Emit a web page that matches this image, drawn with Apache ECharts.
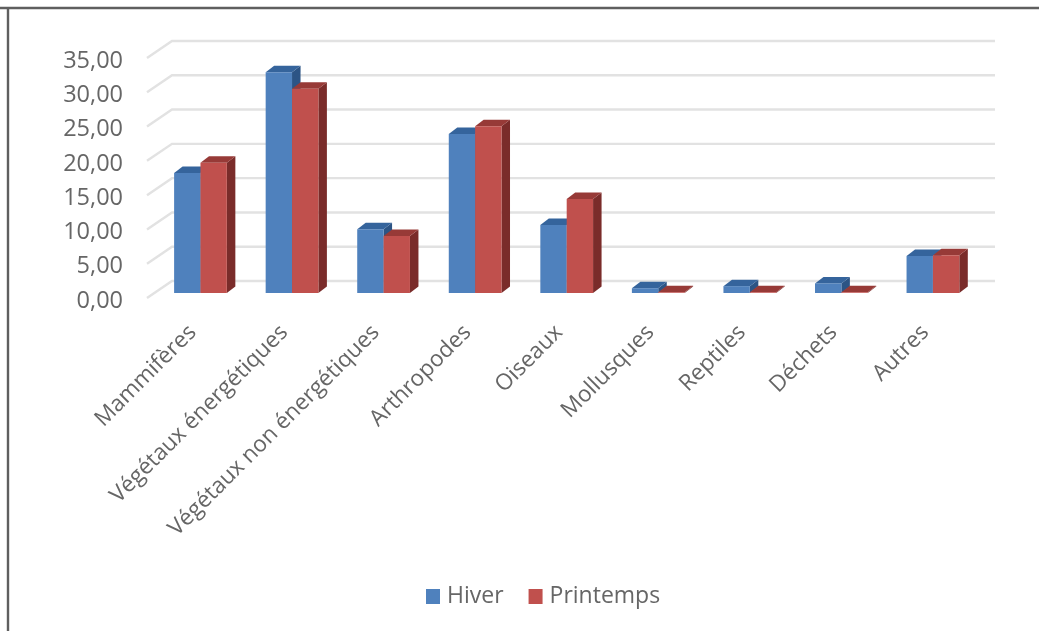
<!DOCTYPE html>
<html><head><meta charset="utf-8">
<style>html,body{margin:0;padding:0;background:#fff}#c{width:1039px;height:631px;filter:blur(0.7px)}</style>
<script src="https://cdn.jsdelivr.net/npm/echarts@6/dist/echarts.min.js"></script>
</head><body><div id="c"></div>
<script>
const categories = ["Mammifères","Végétaux énergétiques","Végétaux non énergétiques","Arthropodes","Oiseaux","Mollusques","Reptiles","Déchets","Autres"];
const hiver = [17.5,32.2,9.3,23.2,9.9,0.7,1.0,1.4,5.4];
const printemps = [19.0,29.8,8.3,24.3,13.7,0.1,0.1,0.1,5.5];
const ticks = [0,5,10,15,20,25,30,35];
const FONT = '"Open Sans", sans-serif';
const TEXT = '#666666';
const chart = echarts.init(document.getElementById('c'));

function gridItem(params, api){
  const v = api.value(0);
  const p = api.coord([0, v]);
  const cs = params.coordSys;
  const style = {fill:'none', stroke:'#e2e2e2', lineWidth:2.4};
  return {type:'polyline', silent:true, shape:{points:[
    [cs.x, p[1]-3],[cs.x+25, p[1]-20],[cs.x+cs.width+24, p[1]-20]
  ]}, style};
}
function barItem(side, front, top, right){
  return function(params, api){
    const i = api.value(0), v = api.value(1);
    const p = api.coord([i, v]), b = api.coord([i, 0]);
    const band = api.size([1,0])[0];
    const w = band*0.288;
    const ox = 7.7, oy = -8, dx = 8.5, dy = -6.5;
    const x0 = p[0]+ox+(side===0?-w:0), x1 = x0+w;
    const yt = p[1]+oy, yb = b[1]+oy;
    return {type:'group', children:[
      {type:'polygon', shape:{points:[[x1,yb],[x1+dx,yb+dy],[x1+dx,yt+dy],[x1,yt]]}, style:{fill:right}},
      {type:'polygon', shape:{points:[[x0,yt],[x0+dx,yt+dy],[x1+dx,yt+dy],[x1,yt]]}, style:{fill:top}},
      {type:'rect', shape:{x:x0,y:yt,width:w,height:yb-yt}, style:{fill:front}}
    ]};
  };
}
chart.setOption({
  animation:false,
  backgroundColor:'#fff',
  graphic:[
    {type:'line', shape:{x1:0,y1:8,x2:1039,y2:8}, style:{stroke:'#5f5f5f',lineWidth:2.4}},
    {type:'line', shape:{x1:8,y1:8,x2:8,y2:631}, style:{stroke:'#5f5f5f',lineWidth:2.4}}
  ],
  grid:{left:147, top:61, width:824, height:240, containLabel:false},
  xAxis:{type:'category', data:categories, axisLine:{show:false}, axisTick:{show:false},
    axisLabel:{rotate:45, interval:0, margin:28, fontFamily:FONT, fontSize:22.5, color:TEXT}},
  yAxis:{type:'value', min:0, max:35, interval:5, axisLine:{show:false}, axisTick:{show:false}, splitLine:{show:false},
    axisLabel:{margin:24, fontFamily:FONT, fontSize:23.5, color:TEXT, formatter:v=>v.toFixed(2).replace('.',',')}},
  legend:{left:421, top:580, itemWidth:14, itemHeight:15, itemGap:25, icon:'rect',
    textStyle:{fontFamily:FONT, fontSize:23, color:TEXT, padding:[0,0,0,2]},
    data:[{name:'Hiver',itemStyle:{color:'#4F81BD'}},{name:'Printemps',itemStyle:{color:'#C0504D'}}]},
  series:[
    {type:'custom', name:'grille', silent:true, z:1, data:ticks.map(t=>[t]), encode:{y:0}, renderItem:gridItem},
    {type:'custom', name:'Hiver', z:2, itemStyle:{color:'#4F81BD'}, data:hiver.map((v,i)=>[i,v]), encode:{x:0,y:1}, renderItem:barItem(0,'#4F81BD','#35649c','#2c5485')},
    {type:'custom', name:'Printemps', z:3, itemStyle:{color:'#C0504D'}, data:printemps.map((v,i)=>[i,v]), encode:{x:0,y:1}, renderItem:barItem(1,'#C0504D','#973a37','#7a2c2a')}
  ]
});
</script></body></html>
